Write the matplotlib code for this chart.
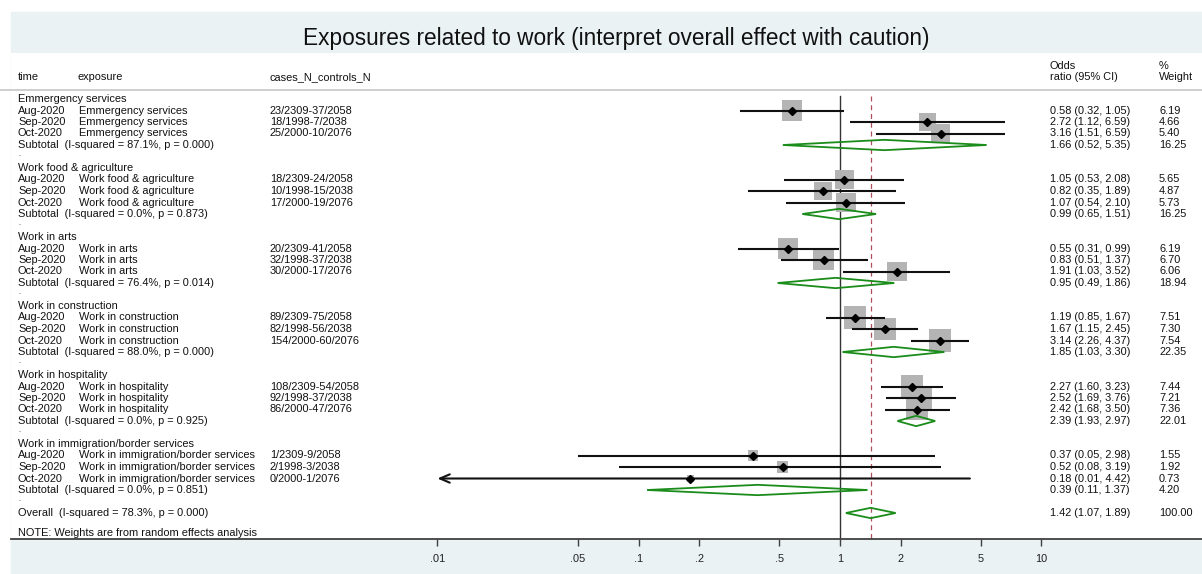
import numpy as np
import matplotlib
matplotlib.use("Agg")
import matplotlib.pyplot as plt
import matplotlib.transforms as mtransforms
from matplotlib.patches import Rectangle, Polygon

plt.rcParams['font.family'] = ['Liberation Sans', 'DejaVu Sans']

# ---- data ----
groups = ["Emmergency services", "Work food & agriculture", "Work in arts",
          "Work in construction", "Work in hospitality",
          "Work in immigration/border services"]
months = ["Aug-2020", "Sep-2020", "Oct-2020"]

cases = [
    ["23/2309-37/2058", "18/1998-7/2038", "25/2000-10/2076"],
    ["18/2309-24/2058", "10/1998-15/2038", "17/2000-19/2076"],
    ["20/2309-41/2058", "32/1998-37/2038", "30/2000-17/2076"],
    ["89/2309-75/2058", "82/1998-56/2038", "154/2000-60/2076"],
    ["108/2309-54/2058", "92/1998-37/2038", "86/2000-47/2076"],
    ["1/2309-9/2058", "2/1998-3/2038", "0/2000-1/2076"],
]
odds = [[0.58, 2.72, 3.16], [1.05, 0.82, 1.07], [0.55, 0.83, 1.91],
        [1.19, 1.67, 3.14], [2.27, 2.52, 2.42], [0.37, 0.52, 0.18]]
ci_lo = [[0.32, 1.12, 1.51], [0.53, 0.35, 0.54], [0.31, 0.51, 1.03],
         [0.85, 1.15, 2.26], [1.60, 1.69, 1.68], [0.05, 0.08, 0.01]]
ci_hi = [[1.05, 6.59, 6.59], [2.08, 1.89, 2.10], [0.99, 1.37, 3.52],
         [1.67, 2.45, 4.37], [3.23, 3.76, 3.50], [2.98, 3.19, 4.42]]
weights = [[6.19, 4.66, 5.40], [5.65, 4.87, 5.73], [6.19, 6.70, 6.06],
           [7.51, 7.30, 7.54], [7.44, 7.21, 7.36], [1.55, 1.92, 0.73]]

sub_or = [1.66, 0.99, 0.95, 1.85, 2.39, 0.39]
sub_lo = [0.52, 0.65, 0.49, 1.03, 1.93, 0.11]
sub_hi = [5.35, 1.51, 1.86, 3.30, 2.97, 1.37]
sub_w = [16.25, 16.25, 18.94, 22.35, 22.01, 4.20]
sub_i2 = ["87.1%", "0.0%", "76.4%", "88.0%", "0.0%", "0.0%"]
sub_p = ["0.000", "0.873", "0.014", "0.000", "0.925", "0.851"]

overall_or, overall_lo, overall_hi, overall_w = 1.42, 1.07, 1.89, 100.00
overall_i2, overall_p = "78.3%", "0.000"

tick_vals = [0.01, 0.05, 0.1, 0.2, 0.5, 1, 2, 5, 10]
tick_labels = [".01", ".05", ".1", ".2", ".5", "1", "2", "5", "10"]

# ---- figure ----
W, H = 1202, 574
fig = plt.figure(figsize=(W / 100, H / 100), dpi=100, facecolor="white")
bg = "#EAF2F3"
fig.patches.append(Rectangle((11 / W, 0), 1 - 11 / W, 1 - 12 / H,
                             transform=fig.transFigure, color=bg, zorder=-5))

ax_top, ax_bot = 53, 539
ax = fig.add_axes([11 / W, 1 - ax_bot / H, 1 - 11 / W, (ax_bot - ax_top) / H])
ax.set_zorder(2)
ax.set_facecolor("white")

# log x: value 1 at px 840, 201.3 px per decade
px1, dec = 840, 201.3
ax.set_xscale("log")
ax.set_xlim(10 ** ((11 - px1) / dec), 10 ** ((W - px1) / dec))
row0, rh = 99, 11.5
ax.set_ylim((ax_bot - row0) / rh, (ax_top - row0) / rh)

for s in ["top", "left", "right"]:
    ax.spines[s].set_visible(False)
ax.spines["bottom"].set_color("#404040")
ax.spines["bottom"].set_linewidth(1.3)
ax.set_yticks([])
ax.set_xticks(tick_vals)
ax.set_xticklabels(tick_labels)
ax.xaxis.set_minor_locator(matplotlib.ticker.NullLocator())
ax.tick_params(axis="x", direction="out", length=5, width=1, color="#404040",
               labelsize=7.9, pad=6, labelcolor="#222222")

tr = mtransforms.blended_transform_factory(fig.transFigure, ax.transData)
fs = 7.9
tc = "#111111"


def txt(px, row, s, **kw):
    ax.text(px / W, row, s, transform=tr, fontsize=kw.pop("fontsize", fs),
            va="center", ha="left", color=tc, clip_on=False, **kw)


def px_to_pt(p):
    return p * 0.72


# header
txt(18, -1.91, "time")
txt(78, -1.91, "exposure")
txt(270, -1.91, "cases_N_controls_N")
txt(1050, -2.87, "Odds")
txt(1050, -1.91, "ratio (95% CI)")
txt(1159, -2.87, "%")
txt(1159, -1.91, "Weight")
ax.plot([0, 1], [-0.78, -0.78], transform=tr, color="#cccccc", lw=1.3,
        clip_on=False)

fig.text(616 / W, 1 - 38 / H, "Exposures related to work (interpret overall effect with caution)",
         ha="center", va="center", fontsize=16.3, color="#111111")

xmin_tick = tick_vals[0]
box_k = 8.1  # px per sqrt(weight)


def diamond(lo, mid, hi, row):
    pts = [(lo, row), (mid, row - 0.45), (hi, row), (mid, row + 0.45)]
    ax.add_patch(Polygon(pts, closed=True, fill=False, edgecolor="#1a8c1a",
                         lw=1.3, zorder=4))


for g in range(len(groups)):
    base = g * 6
    txt(18, base, groups[g])
    for k in range(3):
        r = base + 1 + k
        txt(18, r, months[k])
        txt(79, r, groups[g])
        txt(270, r, cases[g][k])
        txt(1050, r, "%.2f (%.2f, %.2f)" % (odds[g][k], ci_lo[g][k], ci_hi[g][k]))
        txt(1159, r, "%.2f" % weights[g][k])
        side = box_k * np.sqrt(weights[g][k])
        ax.scatter([odds[g][k]], [r], marker="s", s=px_to_pt(side) ** 2,
                   color="#b4b4b4", edgecolors="none", zorder=2)
        lo = ci_lo[g][k]
        if lo <= xmin_tick:
            # CI runs off the axis: draw an open arrow at the .01 end
            ax.annotate("", xy=(xmin_tick, r), xytext=(ci_hi[g][k], r),
                        arrowprops=dict(arrowstyle="->,head_length=0.7,head_width=0.3",
                                        color="#111111", lw=1.5,
                                        shrinkA=0, shrinkB=0), zorder=3)
        else:
            ax.plot([lo, ci_hi[g][k]], [r, r], color="#111111", lw=1.5,
                    solid_capstyle="butt", zorder=3)
        ax.plot([odds[g][k]], [r], marker="D", ms=4, color="black", zorder=5)
    rs = base + 4
    txt(18, rs, "Subtotal  (I-squared = %s, p = %s)" % (sub_i2[g], sub_p[g]))
    txt(1050, rs, "%.2f (%.2f, %.2f)" % (sub_or[g], sub_lo[g], sub_hi[g]))
    txt(1159, rs, "%.2f" % sub_w[g])
    diamond(sub_lo[g], sub_or[g], sub_hi[g], rs)
    txt(18, base + 5 - 0.15, ".", fontsize=5)

ro = 36
txt(18, ro, "Overall  (I-squared = %s, p = %s)" % (overall_i2, overall_p))
txt(1050, ro, "%.2f (%.2f, %.2f)" % (overall_or, overall_lo, overall_hi))
txt(1159, ro, "%.2f" % overall_w)
diamond(overall_lo, overall_or, overall_hi, ro)
txt(18, 37.74, "NOTE: Weights are from random effects analysis")

ylo = ax.get_ylim()[0]
ax.plot([1, 1], [-0.3, ylo], color="#333333", lw=1, zorder=1)
ax.plot([overall_or, overall_or], [-0.3, ylo], color="#b0505f", lw=0.9,
        ls=(0, (4, 3)), zorder=1)

fig.savefig("out.png", dpi=100, facecolor=fig.get_facecolor())
